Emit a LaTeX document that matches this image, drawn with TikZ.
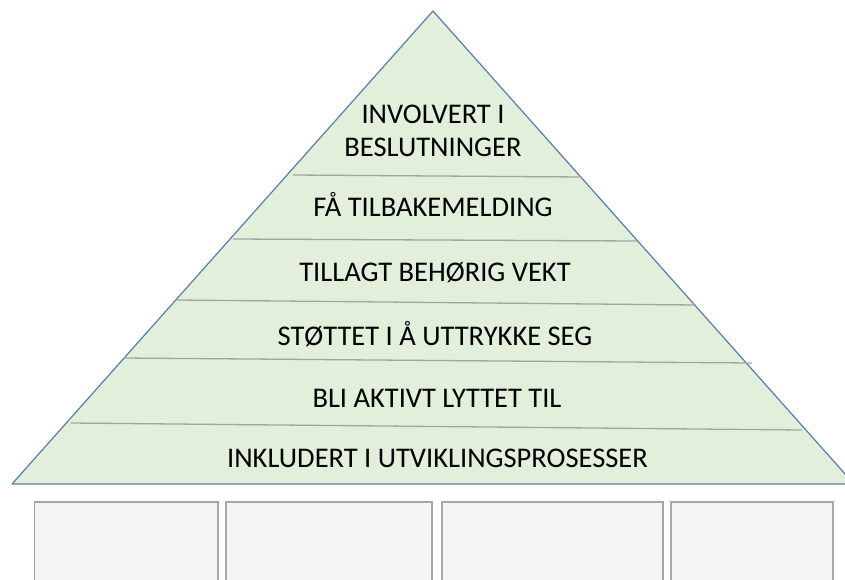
\documentclass[tikz,border=0pt]{standalone}
\usepackage{fontspec}
\setmainfont{Carlito}
\definecolor{pyrfill}{HTML}{E2EFDA}
\definecolor{pyredge}{HTML}{5A7BB5}
\definecolor{divline}{HTML}{A3A59F}
\definecolor{boxfill}{HTML}{F4F4F4}
\definecolor{boxedge}{HTML}{A6A6A6}
\tikzset{
  tiertext/.style={anchor=base, inner sep=0pt, font=\fontsize{28.5}{33}\selectfont, text=black, align=center},
  divider/.style={draw=divline, line width=1.3pt},
  lowbox/.style={draw=boxedge, fill=boxfill, line width=1.2pt},
}
\begin{document}
\begin{tikzpicture}[x=1pt,y=-1pt]
\clip (0,0) rectangle (845,579);
\fill[white] (0,0) rectangle (845,579);
% pyramid
\coordinate (apex) at (433,11);
\coordinate (bl) at (12,484);
\coordinate (br) at (854,484);
\filldraw[fill=pyrfill, draw=pyredge, line width=1.2pt, line join=round] (apex) -- (br) -- (bl) -- cycle;
% dividers
\draw[divider] (293,175) -- (582,177);
\draw[divider] (233,239) -- (637,241);
\draw[divider] (177,300) -- (696,305);
\draw[divider] (124,358) -- (752,363);
\draw[divider] (71,423) -- (802,430);
% texts
\node[tiertext] (t1a) at (433,123) {INVOLVERT I};
\node[tiertext] (t1b) at (433,156) {BESLUTNINGER};
\node[tiertext] (t2) at (433,216.5) {FÅ TILBAKEMELDING};
\node[tiertext] (t3) at (435,281.5) {TILLAGT BEHØRIG VEKT};
\node[tiertext] (t4) at (435,345) {STØTTET I Å UTTRYKKE SEG};
\node[tiertext] (t5) at (437,407) {BLI AKTIVT LYTTET TIL};
\node[tiertext] (t6) at (437.5,467) {INKLUDERT I UTVIKLINGSPROSESSER};
% boxes
\draw[lowbox] (34.5,502) rectangle (218,600);
\draw[lowbox] (226,502) rectangle (432,600);
\draw[lowbox] (442,502) rectangle (663,600);
\draw[lowbox] (671,502) rectangle (833,600);
\end{tikzpicture}
\end{document}
